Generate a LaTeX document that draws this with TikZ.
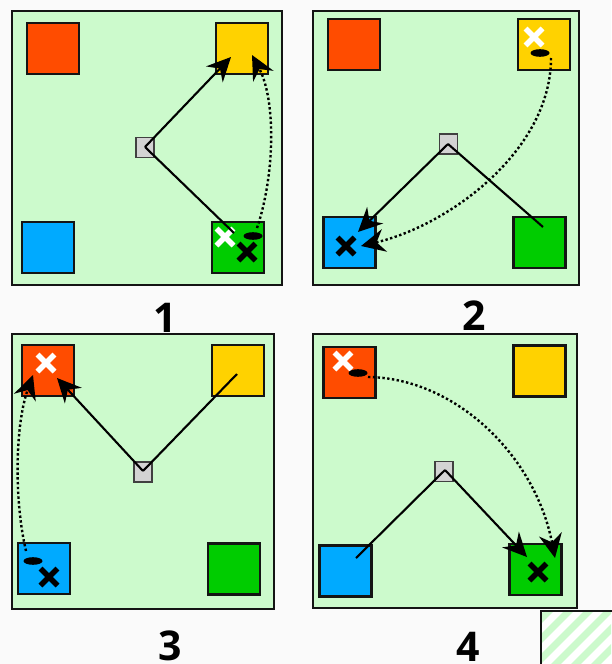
\documentclass[tikz,border=0pt]{standalone}
\usepackage{fontspec}
\setmainfont{Open Sans}
\usetikzlibrary{arrows.meta}
\definecolor{bgc}{RGB}{250,250,250}
\definecolor{panelgreen}{RGB}{204,250,204}
\definecolor{sqred}{RGB}{255,76,0}
\definecolor{sqyellow}{RGB}{255,210,0}
\definecolor{sqblue}{RGB}{0,170,255}
\definecolor{sqgreen}{RGB}{0,204,0}
\definecolor{graybox}{RGB}{211,211,211}
\definecolor{edge}{RGB}{20,20,20}
\tikzset{
  panel/.style={draw=edge, line width=2pt, fill=panelgreen, inner sep=0pt},
  sq/.style={draw=edge, line width=2.2pt, minimum width=52pt, minimum height=51pt, inner sep=0pt},
  hub/.style={draw=black!75, line width=1.5pt, fill=graybox, minimum width=18pt, minimum height=20pt, inner sep=0pt},
  conn/.style={line width=2.1pt, black},
  tipped/.style={-{Stealth[length=24pt,width=23pt,inset=8pt]}},
  dots/.style={line width=2.4pt, dash pattern=on 2.4pt off 2.4pt, black},
  num/.style={font=\fontsize{41}{41}\selectfont\bfseries, inner sep=0pt},
  wx/.pic={\draw[white, line width=5.5pt] (-8.5,-8.5)--(8.5,8.5) (-8.5,8.5)--(8.5,-8.5);},
  bx/.pic={\draw[black, line width=5.5pt] (-8.5,-8.5)--(8.5,8.5) (-8.5,8.5)--(8.5,-8.5);}
}
\begin{document}
\begin{tikzpicture}[x=1pt,y=-1pt]
\fill[bgc] (0,0) rectangle (611,664);
\useasboundingbox (0,0) rectangle (611,664);

% ---------------- Panel 1 ----------------
\node[panel, minimum width=270pt, minimum height=274pt] (p1) at (147,148) {};
\node[sq, fill=sqred]    (r1) at (53,48.5) {};
\node[sq, fill=sqyellow] (y1) at (242,48.5) {};
\node[sq, fill=sqblue]   (b1) at (48,247.5) {};
\node[sq, fill=sqgreen]  (g1) at (238,247.5) {};
\node[hub] (h1) at (145,147.5) {};
\pic at (225,237) {wx};
\pic at (247,252) {bx};
\fill (253,236) ellipse (9.5 and 3.8);
\coordinate (h1c) at (145,147);
\coordinate (y1t) at (231,57);
\coordinate (g1e) at (234,233);
\coordinate (g1s) at (257,228);
\coordinate (y1d) at (252,55);
\draw[conn, tipped] (h1c) -- (y1t);
\draw[conn] (h1c) -- (g1e);
\draw[dots, tipped] (g1s) .. controls (275,175) and (276,100) .. (y1d);

% ---------------- Panel 2 ----------------
\node[panel, minimum width=266pt, minimum height=274pt] (p2) at (446,148) {};
\node[sq, fill=sqred]    (r2) at (354,44.5) {};
\node[sq, fill=sqyellow] (y2) at (544,44.5) {};
\node[sq, fill=sqblue]   (b2) at (349.5,242.5) {};
\node[sq, fill=sqgreen]  (g2) at (539.5,242.5) {};
\node[hub] (h2) at (448.5,144) {};
\pic at (534,37) {wx};
\pic at (346,246) {bx};
\fill (540,53) ellipse (9.5 and 3.8);
\coordinate (h2c) at (448,144);
\coordinate (b2t) at (358,232);
\coordinate (g2e) at (543,227);
\coordinate (y2s) at (551,58);
\coordinate (b2d) at (361,246);
\draw[conn, tipped] (h2c) -- (b2t);
\draw[conn] (h2c) -- (g2e);
\draw[dots, tipped] (y2s) .. controls (551,150) and (450,225) .. (b2d);

% ---------------- Panel 3 ----------------
\node[panel, minimum width=262pt, minimum height=275pt] (p3) at (143,471.5) {};
\node[sq, fill=sqred]    (r3) at (48,370.5) {};
\node[sq, fill=sqyellow] (y3) at (238,370.5) {};
\node[sq, fill=sqblue]   (b3) at (44,568.5) {};
\node[sq, fill=sqgreen]  (g3) at (234,569) {};
\node[hub] (h3) at (143,472) {};
\pic at (46,363) {wx};
\pic at (49,577) {bx};
\fill (33,561) ellipse (9.5 and 3.8);
\coordinate (h3c) at (143,471);
\coordinate (r3t) at (57,378);
\coordinate (y3e) at (237,374);
\coordinate (b3s) at (26,551);
\coordinate (r3d) at (33,375);
\draw[conn, tipped] (h3c) -- (r3t);
\draw[conn] (h3c) -- (y3e);
\draw[dots, tipped] (b3s) .. controls (14,500) and (15,425) .. (r3d);

% ---------------- Panel 4 ----------------
\node[panel, minimum width=264pt, minimum height=274pt] (p4) at (445,471) {};
\node[sq, fill=sqred]    (r4) at (349.5,372.5) {};
\node[sq, fill=sqyellow] (y4) at (539.5,371) {};
\node[sq, fill=sqblue]   (b4) at (345.5,571) {};
\node[sq, fill=sqgreen]  (g4) at (535.5,569.5) {};
\node[hub] (h4) at (444,471.5) {};
\pic at (343,361) {wx};
\pic at (538,572) {bx};
\fill (358,373) ellipse (9.5 and 3.8);
\coordinate (h4c) at (445,470);
\coordinate (b4e) at (356,558);
\coordinate (g4t) at (527,557);
\coordinate (r4s) at (368,377);
\coordinate (g4d) at (555,558);
\draw[conn] (h4c) -- (b4e);
\draw[conn, tipped] (h4c) -- (g4t);
\draw[dots, tipped] (r4s) .. controls (455,378) and (535,455) .. (g4d);

% ---------------- Labels ----------------
\node[num, anchor=base] (l1) at (165,332) {1};
\node[num, anchor=base] (l2) at (474,330) {2};
\node[num, anchor=base] (l3) at (170,660) {3};
\node[num, anchor=base] (l4) at (468,661) {4};

% ---------------- Hatched box ----------------
\begin{scope}
  \clip (541,611) rectangle (611,664);
  \fill[white] (541,611) rectangle (611,664);
  \foreach \k in {440,460,...,640}
    \draw[panelgreen, line width=7pt] (\k,700) -- (\k+100,600);
\end{scope}
\draw[edge, line width=2pt] (541,670) |- (615,611);
\end{tikzpicture}
\end{document}
